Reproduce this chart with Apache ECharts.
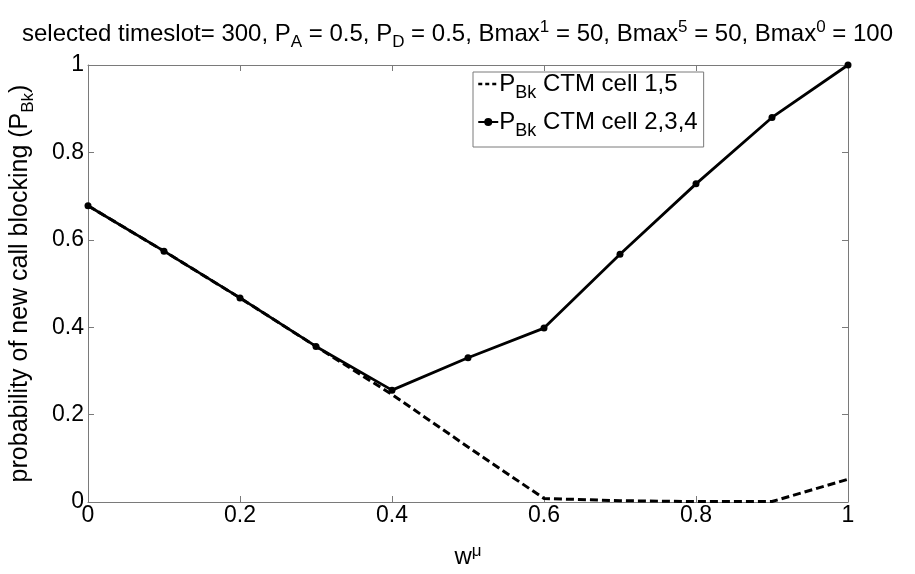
<!DOCTYPE html>
<html>
<head>
<meta charset="utf-8">
<script src="https://cdn.jsdelivr.net/npm/echarts@6/dist/echarts.min.js"></script>
<style>
html,body{margin:0;padding:0;background:#fff;}
#chart{width:915px;height:574px;}
</style>
</head>
<body>
<div id="chart"></div>
<script>
// ---- data ----
const wValues = [0, 0.1, 0.2, 0.3, 0.4, 0.5, 0.6, 0.7, 0.8, 0.9, 1.0];
const cell15 = [0.678, 0.574, 0.467, 0.356, 0.246, 0.126, 0.008, 0.003, 0.001, 0.001, 0.052];
const cell234 = [0.678, 0.574, 0.467, 0.356, 0.256, 0.330, 0.398, 0.567, 0.728, 0.880, 1.0];
const seriesNames = ['cell15', 'cell234'];
const legendTexts = ['CTM cell 1,5', 'CTM cell 2,3,4'];
const xTicks = [0, 0.2, 0.4, 0.6, 0.8, 1];
const yTicks = [0, 0.2, 0.4, 0.6, 0.8, 1];

const FONT = 'Liberation Sans, Arial, sans-serif';
const axisGray = '#7a7a7a';

function pairs(ys) { return wValues.map((w, i) => [w, ys[i]]); }

const chart = echarts.init(document.getElementById('chart'));

const baseX = {
  type: 'value', min: 0, max: 1, interval: 0.2,
  splitLine: { show: false },
  axisLine: { show: true, onZero: false, lineStyle: { color: axisGray, width: 1 } },
  axisTick: { show: true, inside: true, length: 6, lineStyle: { color: axisGray } }
};
const baseY = {
  type: 'value', min: 0, max: 1, interval: 0.2,
  splitLine: { show: false },
  axisLine: { show: true, onZero: false, lineStyle: { color: axisGray, width: 1 } },
  axisTick: { show: true, inside: true, length: 6, lineStyle: { color: axisGray } }
};

const option = {
  backgroundColor: '#fff',
  animation: false,
  textStyle: { fontFamily: FONT, color: '#000' },
  title: {
    left: 'center', top: 4,
    text: '{t|selected timeslot= 300, P}{sub|A}{t| = 0.5, P}{sub|D}{t| = 0.5, Bmax}{sup|1}{t| = 50, Bmax}{sup|5}{t| = 50, Bmax}{sup|0}{t| = 100}',
    textStyle: {
      fontFamily: FONT, fontWeight: 'normal',
      rich: {
        t: { fontSize: 24, fontFamily: FONT, fontWeight: 'normal', color: '#000', height: 34, verticalAlign: 'middle' },
        sub: { fontSize: 17, fontFamily: FONT, fontWeight: 'normal', color: '#000', padding: [16, 0, 0, 0], height: 34, verticalAlign: 'middle' },
        sup: { fontSize: 17, fontFamily: FONT, fontWeight: 'normal', color: '#000', padding: [0, 0, 14, 0], height: 34, verticalAlign: 'middle' }
      }
    }
  },
  grid: { left: 84, right: 67, top: 65, bottom: 59, containLabel: false },
  legend: {
    orient: 'vertical',
    left: 473, top: 72,
    padding: [0, 6, 7, 4],
    itemGap: 8,
    itemWidth: 20, itemHeight: 10,
    backgroundColor: '#fff',
    borderColor: axisGray, borderWidth: 1,
    data: [
      { name: seriesNames[0], itemStyle: { opacity: 0 }, lineStyle: { type: [4, 3], width: 2.5 } },
      { name: seriesNames[1] }
    ],
    formatter: function (name) {
      const i = seriesNames.indexOf(name);
      return '{p|P}{s|Bk}{p| ' + legendTexts[i] + '}';
    },
    textStyle: {
      fontFamily: FONT,
      padding: [0, 0, 0, -4],
      rich: {
        p: { fontSize: 24, fontFamily: FONT, color: '#000', height: 34, verticalAlign: 'middle' },
        s: { fontSize: 18, fontFamily: FONT, color: '#000', padding: [18, 0, 0, 0], height: 34, verticalAlign: 'middle' }
      }
    }
  },
  xAxis: [
    Object.assign({}, baseX, {
      position: 'bottom',
      name: '{w|w}{mu|μ}',
      nameLocation: 'middle', nameGap: 34,
      nameTextStyle: {
        rich: {
          w: { fontSize: 24, fontFamily: FONT, color: '#000', height: 30, verticalAlign: 'middle' },
          mu: { fontSize: 17, fontFamily: FONT, color: '#000', padding: [0, 0, 12, 0], height: 30, verticalAlign: 'middle' }
        }
      },
      axisLabel: { show: true, fontSize: 23, fontFamily: FONT, color: '#000', margin: 2,
        formatter: v => xTicks.indexOf(Math.round(v * 10) / 10) >= 0 ? String(Math.round(v * 10) / 10) : '' }
    }),
    Object.assign({}, baseX, { position: 'top', axisLabel: { show: false } })
  ],
  yAxis: [
    Object.assign({}, baseY, {
      position: 'left',
      name: '{p|probability of new call blocking (P}{s|Bk}{p|)}',
      nameLocation: 'middle', nameRotate: 90, nameGap: 44,
      nameTextStyle: {
        rich: {
          p: { fontSize: 25, fontFamily: FONT, color: '#000', height: 32, verticalAlign: 'middle' },
          s: { fontSize: 17, fontFamily: FONT, color: '#000', padding: [15, 0, 0, 0], height: 32, verticalAlign: 'middle' }
        }
      },
      axisLabel: { show: true, fontSize: 23, fontFamily: FONT, color: '#000', margin: 4,
        formatter: v => yTicks.indexOf(Math.round(v * 10) / 10) >= 0 ? String(Math.round(v * 10) / 10) : '' }
    }),
    Object.assign({}, baseY, { position: 'right', axisLabel: { show: false } })
  ],
  series: [
    {
      name: seriesNames[0], type: 'line', xAxisIndex: 0, yAxisIndex: 0,
      data: pairs(cell15),
      showSymbol: false, symbol: 'none',
      lineStyle: { color: '#000', width: 3, type: [8, 4] },
      itemStyle: { color: '#000' },
      z: 2
    },
    {
      name: seriesNames[1], type: 'line', xAxisIndex: 0, yAxisIndex: 0,
      data: pairs(cell234),
      symbol: 'circle', symbolSize: 7,
      lineStyle: { color: '#000', width: 2.8 },
      itemStyle: { color: '#000' },
      z: 3
    }
  ]
};
chart.setOption(option);
</script>
</body>
</html>
